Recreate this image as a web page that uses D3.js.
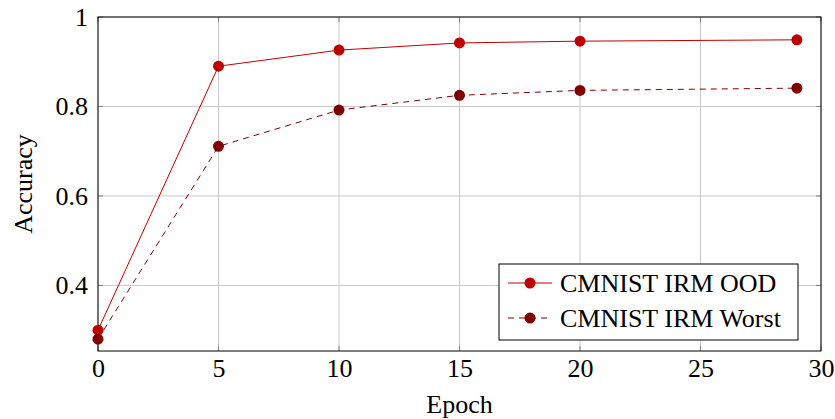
<!DOCTYPE html>
<html>
<head>
<meta charset="utf-8">
<script src="https://cdn.jsdelivr.net/npm/d3@7"></script>
<style>
  body { margin: 0; background: #fff; }
  svg text { font-family: "Liberation Serif", "Times New Roman", serif !important; }
</style>
</head>
<body>
<div id="chart"></div>
<script>
// data
const epochs = [0, 5, 10, 15, 20, 29];
const oodAcc = [0.30, 0.89, 0.926, 0.942, 0.946, 0.949];
const worstAcc = [0.28, 0.711, 0.792, 0.825, 0.836, 0.841];
const xTicks = [0, 5, 10, 15, 20, 25, 30];
const yTicks = [0.4, 0.6, 0.8, 1];
const seriesNames = ["CMNIST IRM OOD", "CMNIST IRM Worst"];

// formatting constants
const width = 835;
const height = 419;
const margin = {top: 17, bottom: 68, left: 98, right: 14};
const innerW = width - margin.left - margin.right;
const innerH = height - margin.top - margin.bottom;
const colors = ["#bf0000", "#800000"];
const fontSize = 26;
const serif = "'Liberation Serif', 'Times New Roman', serif";

const svg = d3.select("#chart")
    .append("svg")
        .attr("width", width)
        .attr("height", height)
    .append("g")
        .attr("transform", `translate(${margin.left}, ${margin.top})`)
        .attr("font-family", serif);

const x = d3.scaleLinear().domain([0, 30]).range([0, innerW]);
const y = d3.scaleLinear().domain([0.2535, 1]).range([innerH, 0]);

// grid
svg.append("g")
    .selectAll("line")
    .data(xTicks)
    .join("line")
        .attr("x1", d => x(d)).attr("x2", d => x(d))
        .attr("y1", 0).attr("y2", innerH)
        .attr("stroke", "#c8c8c8").attr("stroke-width", 1);

svg.append("g")
    .selectAll("line")
    .data(yTicks)
    .join("line")
        .attr("x1", 0).attr("x2", innerW)
        .attr("y1", d => y(d)).attr("y2", d => y(d))
        .attr("stroke", "#c8c8c8").attr("stroke-width", 1);

// ticks inside, on all sides
const tickLen = 5;
const tickColor = "#808080";
svg.append("g").selectAll("line").data(xTicks).join("line")
    .attr("x1", d => x(d)).attr("x2", d => x(d))
    .attr("y1", innerH).attr("y2", innerH - tickLen)
    .attr("stroke", tickColor);
svg.append("g").selectAll("line").data(xTicks).join("line")
    .attr("x1", d => x(d)).attr("x2", d => x(d))
    .attr("y1", 0).attr("y2", tickLen)
    .attr("stroke", tickColor);
svg.append("g").selectAll("line").data(yTicks).join("line")
    .attr("x1", 0).attr("x2", tickLen)
    .attr("y1", d => y(d)).attr("y2", d => y(d))
    .attr("stroke", tickColor);
svg.append("g").selectAll("line").data(yTicks).join("line")
    .attr("x1", innerW).attr("x2", innerW - tickLen)
    .attr("y1", d => y(d)).attr("y2", d => y(d))
    .attr("stroke", tickColor);

// axes (labels only)
const xAxis = svg.append("g")
    .attr("transform", `translate(0, ${innerH})`)
    .call(d3.axisBottom(x).tickValues(xTicks).tickSize(0).tickPadding(7.5).tickFormat(d3.format("d")));
const yAxis = svg.append("g")
    .call(d3.axisLeft(y).tickValues(yTicks).tickSize(0).tickPadding(10).tickFormat(d => d === 1 ? "1" : d3.format(".1f")(d)));
[xAxis, yAxis].forEach(a => {
    a.attr("font-family", serif).attr("font-size", fontSize);
    a.select(".domain").remove();
    a.selectAll("text").attr("font-size", fontSize).attr("font-family", serif).attr("fill", "#000");
});

// frame
svg.append("rect")
    .attr("width", innerW).attr("height", innerH)
    .attr("fill", "none").attr("stroke", "#000").attr("stroke-width", 1);

// axis titles
svg.append("text")
    .attr("x", innerW / 2).attr("y", innerH + 62)
    .attr("text-anchor", "middle").attr("font-size", fontSize)
    .text("Epoch");
svg.append("text")
    .attr("transform", `translate(${-66}, ${innerH / 2}) rotate(-90)`)
    .attr("text-anchor", "middle").attr("font-size", fontSize)
    .text("Accuracy");

// lines
const series = [oodAcc, worstAcc];
const line = d3.line().x((d, i) => x(epochs[i])).y(d => y(d));
series.forEach((vals, k) => {
    svg.append("path")
        .datum(vals)
        .attr("d", line)
        .attr("fill", "none")
        .attr("stroke", colors[k])
        .attr("stroke-width", 1)
        .attr("stroke-dasharray", k === 1 ? "6,5" : null);
    svg.append("g").selectAll("circle")
        .data(vals)
        .join("circle")
            .attr("cx", (d, i) => x(epochs[i]))
            .attr("cy", d => y(d))
            .attr("r", 5.5)
            .attr("fill", colors[k]);
});

// legend
const lx = 499 - margin.left, ly = 264 - margin.top;
const legend = svg.append("g").attr("transform", `translate(${lx}, ${ly})`);
legend.append("rect")
    .attr("width", 299).attr("height", 76)
    .attr("fill", "#fff").attr("stroke", "#000").attr("stroke-width", 1);
for (let i = 0; i < seriesNames.length; i++) {
    const cy = 19 + i * 35;
    legend.append("line")
        .attr("x1", 9).attr("x2", 53)
        .attr("y1", cy).attr("y2", cy)
        .attr("stroke", colors[i])
        .attr("stroke-dasharray", i === 1 ? "6,5" : null);
    legend.append("circle")
        .attr("cx", 31).attr("cy", cy).attr("r", 5.5)
        .attr("fill", colors[i]);
    legend.append("text")
        .attr("x", 61).attr("y", cy + 9)
        .attr("font-size", fontSize).attr("fill", "#000")
        .text(seriesNames[i]);
}
</script>
</body>
</html>
